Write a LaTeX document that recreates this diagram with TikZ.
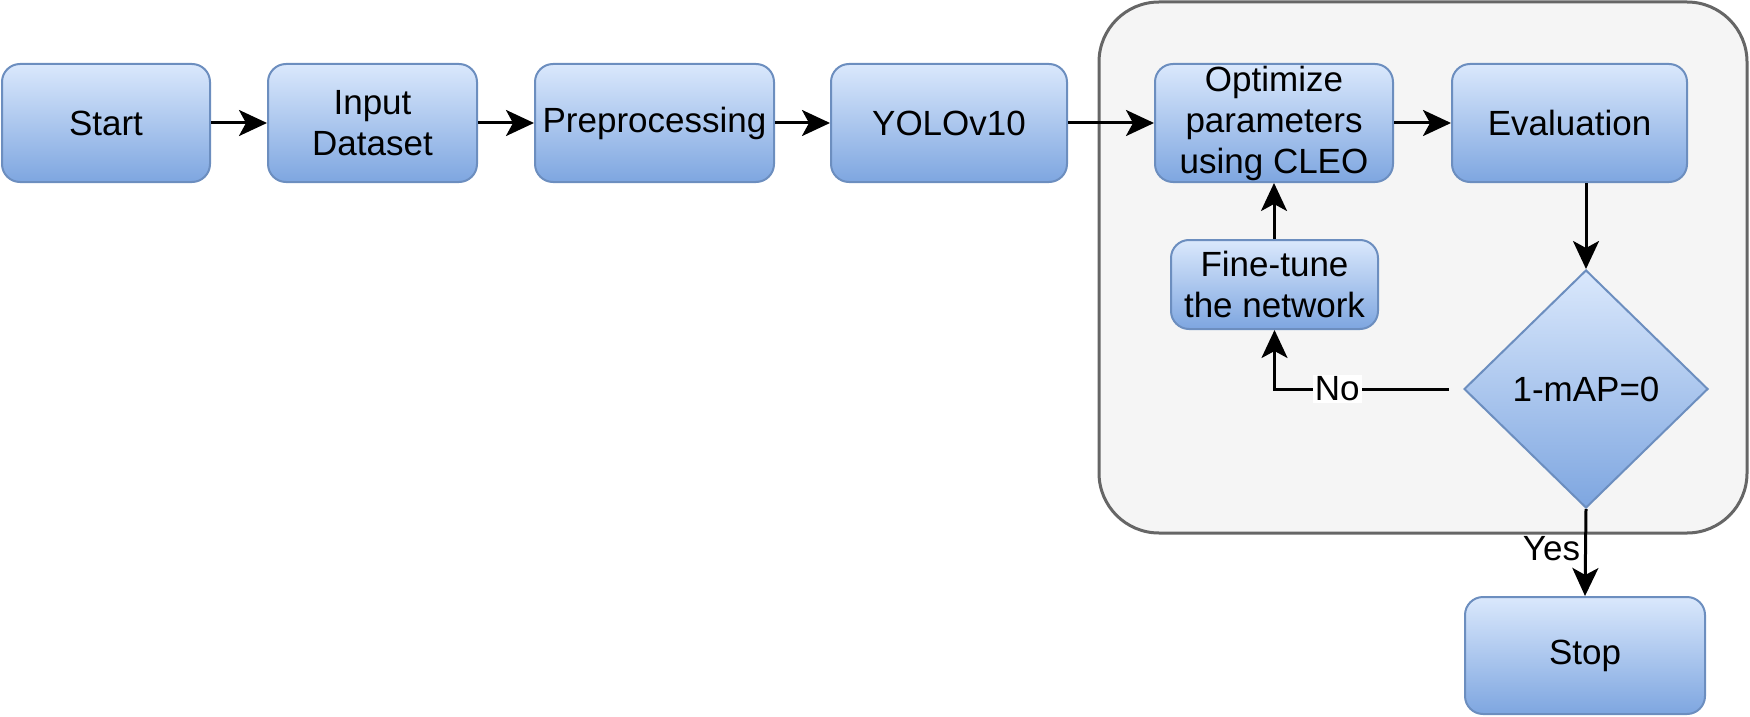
\documentclass[tikz,border=0pt]{standalone}
\usepackage{fontspec}
\setmainfont{Liberation Sans}
\usetikzlibrary{shapes.geometric,arrows.meta}
\definecolor{boxtop}{HTML}{DAE8FC}
\definecolor{boxbot}{HTML}{7EA6E0}
\definecolor{boxline}{HTML}{6C8EBF}
\definecolor{contfill}{HTML}{F5F5F5}
\definecolor{contline}{HTML}{666666}
\tikzset{
  stepbox/.style={rectangle, rounded corners=9pt, draw=boxline, line width=1pt,
    top color=boxtop, bottom color=boxbot, align=center, inner sep=0pt,
    font=\fontsize{17.5}{20.5}\selectfont},
  decision/.style={diamond, draw=boxline, line width=1pt, top color=boxtop,
    bottom color=boxbot, inner sep=0pt, aspect=1.03,
    font=\fontsize{17.5}{20}\selectfont},
  container/.style={rectangle, rounded corners=30pt, draw=contline, fill=contfill,
    line width=1.5pt, inner sep=0pt},
  conn/.style={line width=1.5pt, -{Stealth[length=14pt,width=13pt,inset=3.5pt]}},
  lbl/.style={font=\fontsize{17.5}{20}\selectfont, inner sep=1pt}
}
\begin{document}
\begin{tikzpicture}[x=0.5pt,y=-0.5pt]
\useasboundingbox (0,0) rectangle (1750,717);
\node[container, minimum width=324pt, minimum height=265.5pt] (cont) at (1423,267.5) {};
\node[stepbox, minimum width=104pt, minimum height=59pt] (start) at (106,123) {Start};
\node[stepbox, minimum width=104.5pt, minimum height=59pt] (input) at (372.5,123) {Input\\Dataset};
\node[stepbox, minimum width=119.5pt, minimum height=59pt] (prep) at (654.5,123) {Preprocessing};
\node[stepbox, minimum width=118pt, minimum height=59pt] (yolo) at (949,123) {YOLOv10};
\node[stepbox, minimum width=119pt, minimum height=59pt] (opt) at (1274,123) {Optimize\\parameters\\using CLEO};
\node[stepbox, minimum width=117.5pt, minimum height=59pt] (eval) at (1569.5,123) {Evaluation};
\node[stepbox, minimum width=103.5pt, minimum height=44.5pt] (fine) at (1274.5,284.5) {Fine-tune\\the network};
\node[decision, minimum width=122pt, minimum height=119pt] (dec) at (1586,389) {1-mAP=0};
\node[stepbox, minimum width=120pt, minimum height=58.5pt] (stop) at (1585,655.5) {Stop};
\coordinate (noend) at ([xshift=-7pt]dec.west);
\draw[conn] (start) -- (input);
\draw[conn] (input) -- (prep);
\draw[conn] (prep) -- (yolo);
\draw[conn] (yolo) -- (opt);
\draw[conn] (opt) -- (eval);
\draw[conn] (eval.south -| dec.north) -- (dec.north);
\draw[conn] (fine.north -| opt.south) -- (opt.south);
\draw[conn] (noend) -| node[lbl, fill=white, pos=0.32] {No} (fine.south);
\draw[conn] (dec.south) -- node[lbl, anchor=east, pos=0.45, xshift=-1pt] {Yes} (stop.north);
\end{tikzpicture}
\end{document}
